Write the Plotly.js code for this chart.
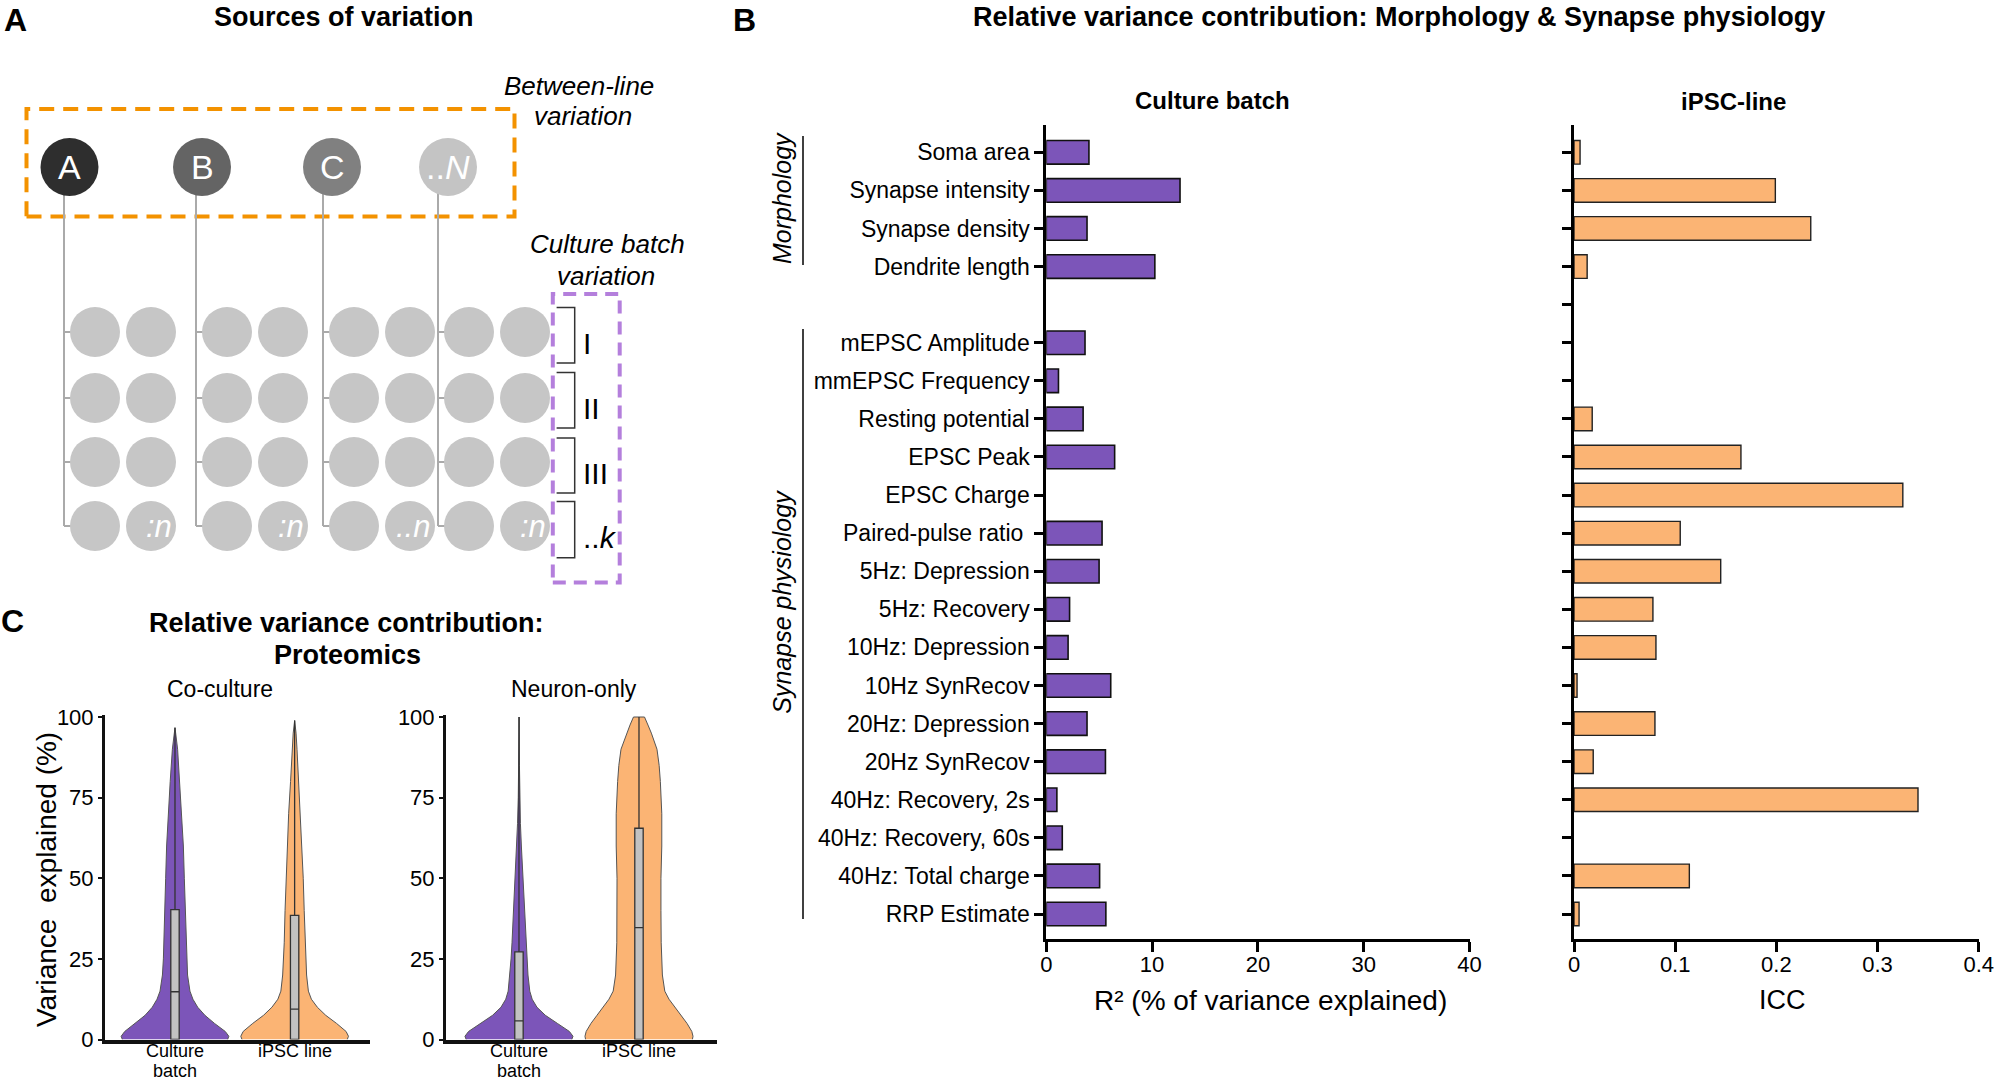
<!DOCTYPE html>
<html>
<head>
<meta charset="utf-8">
<script src="https://cdn.plot.ly/plotly-3.0.1.min.js"></script>
<style>html,body{margin:0;padding:0;background:#fff}#chart{width:2000px;height:1083px}</style>
</head>
<body>
<div id="chart"></div>
<script>
// ---------------- DATA ----------------
// Panel B
const traitLabels = ["Soma area","Synapse intensity","Synapse density","Dendrite length","",
  "mEPSC Amplitude","mmEPSC Frequency","Resting potential","EPSC Peak","EPSC Charge",
  "Paired-pulse ratio\u00a0","5Hz: Depression","5Hz: Recovery","10Hz: Depression","10Hz SynRecov",
  "20Hz: Depression","20Hz SynRecov","40Hz: Recovery, 2s","40Hz: Recovery, 60s","40Hz: Total charge","RRP Estimate"];
const cultureBatchR2 = [4.03,12.64,3.85,10.26,null,3.66,1.15,3.48,6.46,0,5.27,4.99,2.2,2.06,6.09,3.85,5.59,1.0,1.51,5.04,5.63];
const ipscLineICC   = [0.006,0.199,0.234,0.013,null,0,0,0.018,0.165,0.325,0.105,0.145,0.078,0.081,0.003,0.080,0.019,0.340,0,0.114,0.005];
const r2Ticks = [0,10,20,30,40];
const iccTicks = [0,0.1,0.2,0.3,0.4];
const iccTickText = ["0","0.1","0.2","0.3","0.4"];
const groupNames = ["Morphology","Synapse physiology"];

// Panel C (violin outlines: value, half-width in category units)
const violinCategories = ["Culture","iPSC line"];
const violinSecondLine = ["batch",""];
const varTicks = [0,25,50,75,100];
const ccBatchY = [0,1,2.5,5,7.5,10,12.5,15,20,25,30,40,50,60,70,80,90,96.7];
const ccBatchW = [.44,.45,.42,.33,.25,.19,.15,.125,.105,.097,.092,.085,.078,.07,.058,.04,.022,0];
const ccIpscY  = [0,1,2.5,5,7.5,10,12.5,15,20,25,30,40,50,60,70,80,90,95,98.9];
const ccIpscW  = [.44,.45,.43,.35,.26,.19,.14,.115,.1,.092,.087,.08,.072,.063,.05,.034,.02,.012,0];
const noBatchY = [0,1,2.5,5,7.5,10,12.5,15,20,25,30,40,50,60,67,75,85,100];
const noBatchW = [.44,.45,.42,.32,.22,.15,.11,.09,.075,.066,.058,.045,.033,.02,.012,.006,.004,.002];
const noIpscY  = [0,1,2.5,5,7.5,10,12.5,15,20,30,40,50,60,70,80,85,90,95,97.5,100];
const noIpscW  = [.445,.45,.44,.40,.35,.30,.25,.215,.195,.185,.183,.183,.19,.19,.178,.168,.15,.103,.075,.046];
// box stats: [q1, median, q3, upper whisker]
const ccBatchBox = [0,14.8,40.3,96.7];
const ccIpscBox  = [0,9.4,38.5,98.9];
const noBatchBox = [0,5.8,27.2,100];
const noIpscBox  = [0,34.7,65.5,100];

// Panel A schematic labels
const lineLabels = ["A","B","C","..<i>N</i>"];
const batchLabels = ["I","II","III","..<i>k</i>"];
const lastCellLabels = ["<i>:n</i>","<i>:n</i>","<i>..n</i>","<i>:n</i>"];

// ---------------- STYLE / GEOMETRY ----------------
const W = 2000, H = 1083;
const PX = x => x / W, PY = y => 1 - y / H;
const FONT = '"Liberation Sans", Arial, Helvetica, sans-serif';
const PURPLE = '#7c55b9', ORANGE = '#fbb474';
const rowIdx = traitLabels.map((_, i) => i);
const labelRows = rowIdx.filter(i => traitLabels[i] !== "");
const hideZero = v => (v === 0 ? null : v);   // zero-length bars are not drawn in the reference

const traces = [];
traces.push({type:'bar', orientation:'h', x: cultureBatchR2.map(hideZero), y: rowIdx, width: 0.62,
  marker:{color:PURPLE, line:{color:'#111', width:1.6}}, xaxis:'x', yaxis:'y', hoverinfo:'skip'});
traces.push({type:'bar', orientation:'h', x: ipscLineICC.map(hideZero), y: rowIdx, width: 0.62,
  marker:{color:ORANGE, line:{color:'#222', width:1.4}}, xaxis:'x2', yaxis:'y2', hoverinfo:'skip'});

function violin(ys, hws, c, xa, ya, color) {
  const left = ys.map((y, i) => c - hws[i]);
  const right = ys.map((y, i) => c + hws[i]).reverse();
  return {type:'scatter', mode:'lines', x: left.concat(right), y: ys.concat(ys.slice().reverse()),
    fill:'toself', fillcolor: color, line:{color:'#555', width:1}, xaxis: xa, yaxis: ya, hoverinfo:'skip'};
}
function box(stats, c, xa, ya) {
  return {type:'box', x:[c], q1:[stats[0]], median:[stats[1]], q3:[stats[2]], lowerfence:[stats[0]], upperfence:[stats[3]],
    width:0.07, whiskerwidth:0, boxpoints:false, fillcolor:'#c2c2c2', line:{color:'#333', width:1.3},
    xaxis: xa, yaxis: ya, hoverinfo:'skip'};
}
traces.push(violin(ccBatchY, ccBatchW, 0, 'x3', 'y3', PURPLE));
traces.push(violin(ccIpscY, ccIpscW, 1, 'x3', 'y3', ORANGE));
traces.push(violin(noBatchY, noBatchW, 0, 'x4', 'y4', PURPLE));
traces.push(violin(noIpscY, noIpscW, 1, 'x4', 'y4', ORANGE));
// boxes on overlay axes so they are drawn above the violins
traces.push(box(ccBatchBox, 0, 'x5', 'y5'));
traces.push(box(ccIpscBox, 1, 'x5', 'y5'));
traces.push(box(noBatchBox, 0, 'x6', 'y6'));
traces.push(box(noIpscBox, 1, 'x6', 'y6'));

const tickFont = {family: FONT, size: 22, color:'#000'};
const bYDomain = [PY(939.3), PY(125)];
const bYRange = [20.664, -0.717];
const cYDomain = [PY(1039.5), PY(715.4)];
const ccXRange = [-0.585, 1.63], noXRange = [-0.608, 1.65], cYRange = [0, 100.5];

const layout = {
  width: W, height: H, margin:{l:0,r:0,t:0,b:0}, paper_bgcolor:'#fff', plot_bgcolor:'rgba(0,0,0,0)',
  showlegend:false, hovermode:false, font:{family:FONT, color:'#000'}, bargap:0,
  xaxis:{domain:[PX(1046.3), PX(1469.5)], range:[0,40], tickmode:'array', tickvals:r2Ticks,
    showline:true, linewidth:3, linecolor:'#000', ticks:'outside', ticklen:10, tickwidth:3, tickcolor:'#000',
    ticklabelstandoff:-7, showgrid:false, zeroline:false, tickfont:tickFont, anchor:'y', fixedrange:true},
  yaxis:{domain:bYDomain, range:bYRange, tickmode:'array', tickvals:labelRows, ticktext:labelRows.map(i => traitLabels[i]),
    showline:true, linewidth:3, linecolor:'#000', ticks:'outside', ticklen:9, tickwidth:3, tickcolor:'#000',
    showgrid:false, zeroline:false, tickfont:{family:FONT, size:23, color:'#000'}, anchor:'x', fixedrange:true},
  xaxis2:{domain:[PX(1574), PX(1978.7)], range:[0,0.4], tickmode:'array', tickvals:iccTicks, ticktext:iccTickText,
    showline:true, linewidth:3, linecolor:'#000', ticks:'outside', ticklen:10, tickwidth:3, tickcolor:'#000',
    ticklabelstandoff:-7, showgrid:false, zeroline:false, tickfont:tickFont, anchor:'y2', fixedrange:true},
  yaxis2:{domain:bYDomain, range:bYRange, tickmode:'array', tickvals:rowIdx, showticklabels:false,
    showline:true, linewidth:3, linecolor:'#000', ticks:'outside', ticklen:9, tickwidth:3, tickcolor:'#000',
    showgrid:false, zeroline:false, anchor:'x2', fixedrange:true},
  xaxis3:{domain:[PX(105), PX(370)], range:ccXRange, tickmode:'array', tickvals:[0,1], showticklabels:false,
    showline:true, linewidth:4, linecolor:'#111', ticks:'', showgrid:false, zeroline:false, anchor:'y3', fixedrange:true},
  yaxis3:{domain:cYDomain, range:cYRange, tickmode:'array', tickvals:varTicks,
    showline:true, linewidth:3, linecolor:'#111', ticks:'outside', ticklen:4, tickwidth:2, tickcolor:'#111',
    showgrid:false, zeroline:false, tickfont:tickFont, anchor:'x3', fixedrange:true},
  xaxis4:{domain:[PX(446), PX(717)], range:noXRange, tickmode:'array', tickvals:[0,1], showticklabels:false,
    showline:true, linewidth:4, linecolor:'#111', ticks:'', showgrid:false, zeroline:false, anchor:'y4', fixedrange:true},
  yaxis4:{domain:cYDomain, range:cYRange, tickmode:'array', tickvals:varTicks,
    showline:true, linewidth:3, linecolor:'#111', ticks:'outside', ticklen:4, tickwidth:2, tickcolor:'#111',
    showgrid:false, zeroline:false, tickfont:tickFont, anchor:'x4', fixedrange:true},
  xaxis5:{overlaying:'x3', range:ccXRange, visible:false, anchor:'y5', fixedrange:true},
  yaxis5:{overlaying:'y3', range:cYRange, visible:false, anchor:'x5', fixedrange:true},
  xaxis6:{overlaying:'x4', range:noXRange, visible:false, anchor:'y6', fixedrange:true},
  yaxis6:{overlaying:'y4', range:cYRange, visible:false, anchor:'x6', fixedrange:true},
  shapes: [], annotations: []
};

const S = layout.shapes, A = layout.annotations;
function txt(text, x, y, size, opts) {
  A.push(Object.assign({text, x: PX(x), y: PY(y), xref:'paper', yref:'paper', showarrow:false,
    xanchor:'center', yanchor:'middle', font:{family:FONT, size, color:'#000'}}, opts || {}));
}

// ---- Panel letters & titles ----
txt("<b>A</b>", 15, 20, 32);
txt("<b>B</b>", 744, 20, 32);
txt("<b>C</b>", 12, 621, 32);
txt("<b>Sources of variation</b>", 343.5, 17, 27);
txt("<b>Relative variance contribution: Morphology & Synapse physiology</b>", 1399, 17, 27);
txt("<b>Culture batch</b>", 1212, 100, 24);
txt("<b>iPSC-line</b>", 1733, 102, 24);
txt("R\u00b2 (% of variance explained)", 1270, 1000, 28);
txt("ICC", 1782, 1000, 27);
txt("<b>Relative variance contribution:</b>", 346.5, 623, 27);
txt("<b>Proteomics</b>", 347, 655, 27);
txt("Co-culture", 220, 689, 23);
txt("Neuron-only", 574, 689, 23);
txt("Variance\u00a0 explained (%)", 46, 880, 28, {textangle:-90});
// violin category labels (two tight lines)
['x3','x4'].forEach(xa => violinCategories.forEach((t, i) => {
  A.push({text:t, x:i, xref:xa, y:PY(1051), yref:'paper', showarrow:false, xanchor:'center', yanchor:'middle',
    font:{family:FONT, size:18, color:'#000'}});
  if (violinSecondLine[i]) A.push({text:violinSecondLine[i], x:i, xref:xa, y:PY(1071), yref:'paper', showarrow:false,
    xanchor:'center', yanchor:'middle', font:{family:FONT, size:18, color:'#000'}});
}));

// ---- Panel B group brackets ----
const groupSpans = [[-0.43, 2.96], [4.64, 20.13]];
const groupCenters = [1.2, 11.8];
groupNames.forEach((g, i) => {
  S.push({type:'line', xref:'paper', yref:'y', x0:PX(803), x1:PX(803), y0:groupSpans[i][0], y1:groupSpans[i][1],
    line:{color:'#000', width:1.5}});
  A.push({text:'<i>'+g+'</i>', xref:'paper', yref:'y', x:PX(782), y:groupCenters[i], textangle:-90, showarrow:false,
    xanchor:'center', yanchor:'middle', font:{family:FONT, size:25, color:'#000'}});
});

// ---- Panel A schematic ----
const bigColors = ['#2e2e2e','#646464','#808080','#c4c4c4'];
const lineX = [64, 196, 323, 438];
const bigCX = [69.5, 202, 332, 448];
const rowY = [332, 398, 462, 526];
const cellOffsets = [31, 87];
const rBig = 29, rSmall = 25;
S.push({type:'rect', xref:'paper', yref:'paper', x0:PX(26.5), x1:PX(514.5), y0:PY(216.6), y1:PY(108.9),
  line:{color:'#f39200', width:4, dash:'15px,9px'}});
S.push({type:'rect', xref:'paper', yref:'paper', x0:PX(552.8), x1:PX(619.7), y0:PY(582.6), y1:PY(294),
  line:{color:'#b47fdc', width:4, dash:'13px,8px'}});
lineX.forEach((lx, g) => {
  S.push({type:'line', xref:'paper', yref:'paper', x0:PX(lx), x1:PX(lx), y0:PY(190), y1:PY(rowY[3]),
    line:{color:'#aaaaaa', width:2}});
  rowY.forEach(ry => S.push({type:'line', xref:'paper', yref:'paper', x0:PX(lx), x1:PX(lx+8), y0:PY(ry), y1:PY(ry),
    line:{color:'#aaaaaa', width:2}}));
});
lineX.forEach((lx, g) => {
  rowY.forEach((ry, r) => cellOffsets.forEach((off, c) => {
    const cx = lx + off;
    S.push({type:'circle', xref:'paper', yref:'paper', x0:PX(cx-rSmall), x1:PX(cx+rSmall), y0:PY(ry+rSmall), y1:PY(ry-rSmall),
      fillcolor:'#c6c6c6', line:{width:0}});
    if (r === 3 && c === 1) {
      const off2 = lastCellLabels[g].indexOf('..') >= 0 ? 3 : 8;
      txt(lastCellLabels[g], cx+off2, ry, 31, {font:{family:FONT, size:31, color:'#fff'}});
    }
  }));
  S.push({type:'circle', xref:'paper', yref:'paper', x0:PX(bigCX[g]-rBig), x1:PX(bigCX[g]+rBig), y0:PY(167+rBig), y1:PY(167-rBig),
    fillcolor:bigColors[g], line:{width:0}});
  txt(lineLabels[g], bigCX[g], 167, 34, {font:{family:FONT, size:34, color:'#fff'}});
});
const bracketSpans = [[307.5,363],[372.5,428],[438,493],[501.6,557.7]];
bracketSpans.forEach((sp, i) => {
  S.push({type:'path', xref:'paper', yref:'paper',
    path:`M ${PX(556.6)} ${PY(sp[0])} L ${PX(574.7)} ${PY(sp[0])} L ${PX(574.7)} ${PY(sp[1])} L ${PX(556.6)} ${PY(sp[1])}`,
    line:{color:'#333', width:1.5}});
  txt(batchLabels[i], 581, (sp[0]+sp[1])/2 + 8, 30, {xanchor:'left'});
});
txt("<i>Between-line</i>", 578.5, 86, 26);
txt("<i>variation</i>", 583, 116.5, 26);
txt("<i>Culture batch</i>", 607, 244.5, 26);
txt("<i>variation</i>", 606, 276, 26);

Plotly.newPlot('chart', traces, layout, {staticPlot:true, displayModeBar:false});
</script>
</body>
</html>
